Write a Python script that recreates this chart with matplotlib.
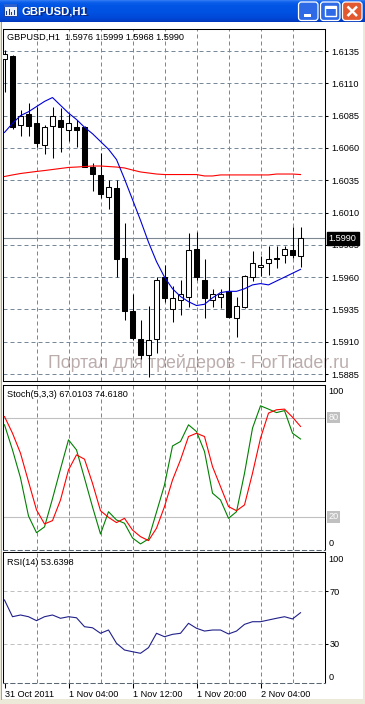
import numpy as np
import matplotlib.pyplot as plt
from matplotlib.patches import FancyBboxPatch, Rectangle

plt.rcParams['font.family'] = ['Liberation Sans', 'DejaVu Sans']

#%% datos GBPUSD H1, velas desde 31 Oct 20:00 hasta 2 Nov 09:00
opens  = [1.6129, 1.6131, 1.6078, 1.6086, 1.6079, 1.6062, 1.6077, 1.6082, 1.6074, 1.6076,
          1.6076, 1.6045, 1.6039, 1.6022, 1.6029, 1.5975, 1.5934, 1.5912, 1.5900, 1.5912,
          1.5960, 1.5935, 1.5942, 1.5945, 1.5982, 1.5958, 1.5942, 1.5945, 1.5949, 1.5928,
          1.5937, 1.5960, 1.5968, 1.5971, 1.5975, 1.5977, 1.5981, 1.5976]
highs  = [1.6136, 1.6132, 1.6089, 1.6095, 1.6092, 1.6078, 1.6092, 1.6091, 1.6086, 1.6082,
          1.6077, 1.6048, 1.6056, 1.6035, 1.6035, 1.6002, 1.5947, 1.5927, 1.5938, 1.5960,
          1.5969, 1.5953, 1.5958, 1.5994, 1.5995, 1.5974, 1.5951, 1.5951, 1.5960, 1.5945,
          1.5962, 1.5980, 1.5976, 1.5984, 1.5984, 1.5984, 1.5999, 1.5999]
lows   = [1.6103, 1.6075, 1.6069, 1.6069, 1.6061, 1.6055, 1.6052, 1.6057, 1.6065, 1.6061,
          1.6045, 1.6027, 1.6021, 1.6013, 1.5960, 1.5927, 1.5911, 1.5897, 1.5883, 1.5901,
          1.5941, 1.5925, 1.5931, 1.5937, 1.5958, 1.5928, 1.5937, 1.5936, 1.5928, 1.5914,
          1.5936, 1.5957, 1.5961, 1.5962, 1.5967, 1.5971, 1.5975, 1.5968]
closes = [1.6133, 1.6076, 1.6085, 1.6077, 1.6064, 1.6076, 1.6085, 1.6076, 1.6079, 1.6074,
          1.6045, 1.6040, 1.6024, 1.6030, 1.5974, 1.5934, 1.5913, 1.5900, 1.5911, 1.5958,
          1.5944, 1.5944, 1.5947, 1.5981, 1.5960, 1.5944, 1.5947, 1.5947, 1.5929, 1.5938,
          1.5961, 1.5971, 1.5969, 1.5974, 1.5974, 1.5982, 1.5977, 1.5990]

# medias moviles (azul rapida, roja lenta)
ma_fast = [1.6072, 1.6079, 1.6085, 1.6088, 1.6092, 1.6096, 1.6099, 1.6093, 1.6087, 1.6082,
           1.6076, 1.6071, 1.6065, 1.6059, 1.6051, 1.6036, 1.6020, 1.6004, 1.5987, 1.5972,
           1.5960, 1.5951, 1.5945, 1.5941, 1.5938, 1.5939, 1.5944, 1.5948, 1.5949, 1.5949,
           1.5951, 1.5954, 1.5955, 1.5954, 1.5957, 1.5960, 1.5963, 1.5966]
ma_slow = [1.60379, 1.60391, 1.60402, 1.60410, 1.60418, 1.60425, 1.60433, 1.60441, 1.60449, 1.60452,
           1.60456, 1.60460, 1.60460, 1.60456, 1.60452, 1.60445, 1.60429, 1.60414, 1.60406, 1.60398,
           1.60394, 1.60394, 1.60394, 1.60394, 1.60394, 1.60383, 1.60383, 1.60391, 1.60391, 1.60391,
           1.60391, 1.60391, 1.60391, 1.60391, 1.60398, 1.60398, 1.60398, 1.60394]

# estocastico (5,3,3)
stoch_main = [75.6, 60.4, 43.5, 20.4, 10.3, 13.8, 30.9, 48.9, 66.5, 60.4,
              43.3, 25.9, 9.5, 23.0, 18.0, 16.0, 7.1, 3.5, 6.5, 22.8,
              39.2, 62.8, 65.5, 75.6, 71.5, 59.4, 34.2, 30.1, 19.0, 23.0,
              46.3, 73.6, 87.1, 85.1, 83.0, 84.2, 70.5, 67.0103]
stoch_signal = [80.6, 70.5, 58.4, 41.2, 24.1, 15.6, 17.6, 30.1, 48.3, 57.4,
                54.8, 40.2, 23.6, 19.6, 16.4, 19.0, 11.9, 7.9, 5.5, 13.0,
                26.1, 42.2, 54.4, 68.5, 70.5, 68.5, 50.3, 38.2, 26.1, 23.6,
                27.1, 46.3, 67.5, 82.7, 84.7, 85.1, 80.2, 74.6180]

# RSI(14)
rsi = [63.3, 50.6, 51.9, 50.6, 47.6, 50.6, 51.9, 49.4, 50.6, 49.8,
       43.0, 42.2, 38.0, 40.5, 30.4, 25.3, 24.0, 22.8, 27.1, 38.0,
       35.4, 37.2, 38.0, 45.6, 41.8, 39.7, 40.5, 40.5, 37.5, 39.7,
       44.8, 46.8, 46.8, 48.1, 49.4, 50.6, 48.9, 53.6398]

price_levels = [1.6135, 1.6110, 1.6085, 1.6060, 1.6035, 1.6010, 1.5985, 1.5960, 1.5935, 1.5910, 1.5885]
time_labels = ['31 Oct 2011', '1 Nov 04:00', '1 Nov 12:00', '1 Nov 20:00', '2 Nov 04:00']
time_label_bars = [0, 8, 16, 24, 32]
grid_bars = list(range(4, 40, 4))

#%% figura en pixeles
W, H = 365, 704
fig = plt.figure(figsize=(W / 100, H / 100), dpi=100, facecolor='white')
bg = fig.add_axes([0, 0, 1, 1], zorder=0)
bg.set_xlim(0, W)
bg.set_ylim(H, 0)
bg.axis('off')

gridc = '#778899'
dash = (0, (4, 3))
fs = 6.6


def panel(x0, y0, x1, y1):
    a = fig.add_axes([x0 / W, 1 - y1 / H, (x1 - x0) / W, (y1 - y0) / H], zorder=1, facecolor='none')
    for s in a.spines.values():
        s.set_linewidth(0.75)
        s.set_color('black')
    a.set_xlim(-0.15, 40.06)
    for k in grid_bars:
        a.axvline(k, color=gridc, lw=0.72, ls=dash, zorder=1)
    return a


# ventana (barra de titulo estilo XP)
stops_y = [0, 1, 3, 6, 12, 18, 21, 22]
stops_c = [(60, 130, 245), (30, 110, 240), (8, 92, 232), (0, 84, 228), (0, 82, 226),
           (0, 72, 214), (0, 60, 196), (0, 52, 180)]
rows = np.arange(22) + 0.5
grad = np.stack([np.interp(rows, stops_y, [c[j] for c in stops_c]) for j in range(3)], axis=-1) / 255
bg.imshow(grad[:, None, :], extent=[0, W, 22, 0], aspect='auto', zorder=1)
bg.add_patch(Rectangle((0, 22), 2, H - 22, fc='#ece9d8', ec='none', zorder=1))
bg.add_patch(Rectangle((363, 22), 2, H - 22, fc='#ece9d8', ec='none', zorder=1))
bg.add_patch(Rectangle((0, 699), W, 5, fc='#ece9d8', ec='none', zorder=1))
bg.plot([0.5, 0.5], [22, 699], color='#a0a0a0', lw=0.7, zorder=2)

# icono
bg.add_patch(Rectangle((3.5, 4), 13, 12, fc='#e8eef8', ec='#1d3f9a', lw=0.7, zorder=2))
bg.add_patch(Rectangle((3.5, 4), 13, 3, fc='#2a5fd0', ec='none', zorder=3))
for xb, hb in zip([6, 8.5, 11, 13.5], [4, 6, 3, 5]):
    bg.add_patch(Rectangle((xb, 15 - hb), 1.3, hb, fc='#1a3a8a', ec='none', zorder=3))

bg.text(23, 12.5, 'GBPUSD,H1', color='#0b2780', fontweight='bold', fontsize=8.1, va='center', zorder=3)
bg.text(22, 11.5, 'GBPUSD,H1', color='white', fontweight='bold', fontsize=8.1, va='center', zorder=4)

for xb, col in zip([298, 320, 342], ['#2e6ae6', '#2e6ae6', '#e2582f']):
    bg.add_patch(FancyBboxPatch((xb + 0.5, 2), 19.5, 18.5, boxstyle='round,pad=0,rounding_size=3',
                                fc=col, ec='white', lw=0.9, zorder=3))
bg.add_patch(Rectangle((303.5, 13.5), 7, 3, fc='white', ec='none', zorder=4))
bg.add_patch(Rectangle((325, 6), 10.5, 10, fc='none', ec='white', lw=1.0, zorder=4))
bg.add_patch(Rectangle((325, 6), 10.5, 2.5, fc='white', ec='none', zorder=4))
bg.plot([347.5, 357], [6.5, 16], color='white', lw=1.8, zorder=4, solid_capstyle='butt')
bg.plot([347.5, 357], [16, 6.5], color='white', lw=1.8, zorder=4, solid_capstyle='butt')

# marca de agua
bg.text(47.7, 368.5, 'Портал для трейдеров - ForTrader.ru', fontsize=12.8, color='#bcadad',
        va='baseline', ha='left', zorder=2)

#%% panel principal (velas)
ax1 = panel(3.3, 28.5, 325, 381)
ax1.set_ylim(1.58796, 1.615244)
idx = np.arange(len(opens))
o = np.array(opens)
c = np.array(closes)
up = c >= o
body_bot = np.minimum(o, c)
body_h = np.maximum(np.abs(c - o), 0.00002)

for p in price_levels:
    ax1.axhline(p, color=gridc, lw=0.72, ls=dash, zorder=1)
ax1.axhline(closes[-1], color='#7d8792', lw=0.8, zorder=2)

ax1.vlines(idx, lows, highs, color='black', lw=0.75, zorder=3)
ax1.bar(idx[up], body_h[up], bottom=body_bot[up], width=0.55, color='white',
        edgecolor='black', linewidth=0.75, zorder=4)
ax1.bar(idx[~up], body_h[~up], bottom=body_bot[~up], width=0.55, color='black',
        edgecolor='black', linewidth=0.75, zorder=4)
ax1.plot(idx, ma_slow, color='#ff0000', lw=0.8, zorder=5)
ax1.plot(idx, ma_fast, color='#0000d8', lw=0.8, zorder=5)

ax1.set_xticks([])
ax1.yaxis.tick_right()
ax1.set_yticks(price_levels)
ax1.set_yticklabels([f'{p:.4f}' for p in price_levels])
ax1.tick_params(axis='y', direction='out', length=2.5, width=0.75, pad=2, labelsize=fs)
ax1.annotate(f'{closes[-1]:.4f}', xy=(1, closes[-1]), xycoords=('axes fraction', 'data'),
             xytext=(2.6, 0), textcoords='offset points', va='center', ha='left', color='white',
             fontsize=fs, annotation_clip=False, zorder=6,
             bbox=dict(boxstyle='square,pad=0.22', fc='black', ec='black'))
ax1.annotate('GBPUSD,H1  %.4f %.4f %.4f %.4f' % (opens[-1], highs[-1], lows[-1], closes[-1]),
             xy=(0, 1), xycoords='axes fraction', xytext=(2.9, -6.2), textcoords='offset points',
             va='center', ha='left', fontsize=fs)

#%% estocastico
ax2 = panel(3.3, 384.5, 325, 549.7)
ax2.set_ylim(0, 100)
ax2.axhline(80, color='#c0c0c0', lw=0.8, zorder=2)
ax2.axhline(20, color='#c0c0c0', lw=0.8, zorder=2)
ax2.plot(idx, stoch_main, color='#008000', lw=0.8, zorder=4)
ax2.plot(idx, stoch_signal, color='#ff0000', lw=0.8, zorder=4)
ax2.set_xticks([])
ax2.set_yticks([])
ax2.spines['bottom'].set_linestyle(dash)
ax2.spines['bottom'].set_color('#5a6673')
for lev, txt, dy in [(100, '100', -5.0), (0, '0', 4.8)]:
    ax2.annotate(txt, xy=(1, lev), xycoords=('axes fraction', 'data'), xytext=(2.3, dy),
                 textcoords='offset points', va='center', ha='left', fontsize=fs, annotation_clip=False)
for lev in [80, 20]:
    ax2.annotate(str(lev), xy=(1, lev), xycoords=('axes fraction', 'data'), xytext=(2.6, 0),
                 textcoords='offset points', va='center', ha='left', fontsize=fs, color='white',
                 annotation_clip=False, bbox=dict(boxstyle='square,pad=0.15', fc='#c0c0c0', ec='none'))
ax2.annotate('Stoch(5,3,3) %.4f %.4f' % (stoch_main[-1], stoch_signal[-1]), xy=(0, 1),
             xycoords='axes fraction', xytext=(2.9, -7.0), textcoords='offset points',
             va='center', ha='left', fontsize=fs)

#%% RSI
ax3 = panel(3.3, 551.7, 325, 683.3)
ax3.set_ylim(0, 100)
ax3.axhline(70, color='#c0c0c0', lw=0.72, ls=dash, zorder=2)
ax3.axhline(30, color='#c0c0c0', lw=0.72, ls=dash, zorder=2)
ax3.plot(idx, rsi, color='#20208a', lw=0.8, zorder=4)
ax3.spines['bottom'].set_linestyle(dash)
ax3.spines['bottom'].set_color('#5a6673')
ax3.yaxis.tick_right()
ax3.set_yticks([70, 30])
ax3.set_yticklabels(['70', '30'])
ax3.tick_params(axis='y', direction='out', length=2.5, width=0.75, pad=1, labelsize=fs)
for lev, txt, dy in [(100, '100', -5.3), (0, '0', 4.0)]:
    ax3.annotate(txt, xy=(1, lev), xycoords=('axes fraction', 'data'), xytext=(2.3, dy),
                 textcoords='offset points', va='center', ha='left', fontsize=fs, annotation_clip=False)
ax3.annotate('RSI(14) %.4f' % rsi[-1], xy=(0, 1), xycoords='axes fraction', xytext=(2.9, -7.6),
             textcoords='offset points', va='center', ha='left', fontsize=fs)
ax3.set_xticks(time_label_bars)
ax3.set_xticklabels(time_labels)
ax3.tick_params(axis='x', direction='out', length=3.5, width=0.75, pad=1.2, labelsize=fs)
for lab in ax3.get_xticklabels():
    lab.set_ha('left')

plt.savefig('out.png', dpi=100)
